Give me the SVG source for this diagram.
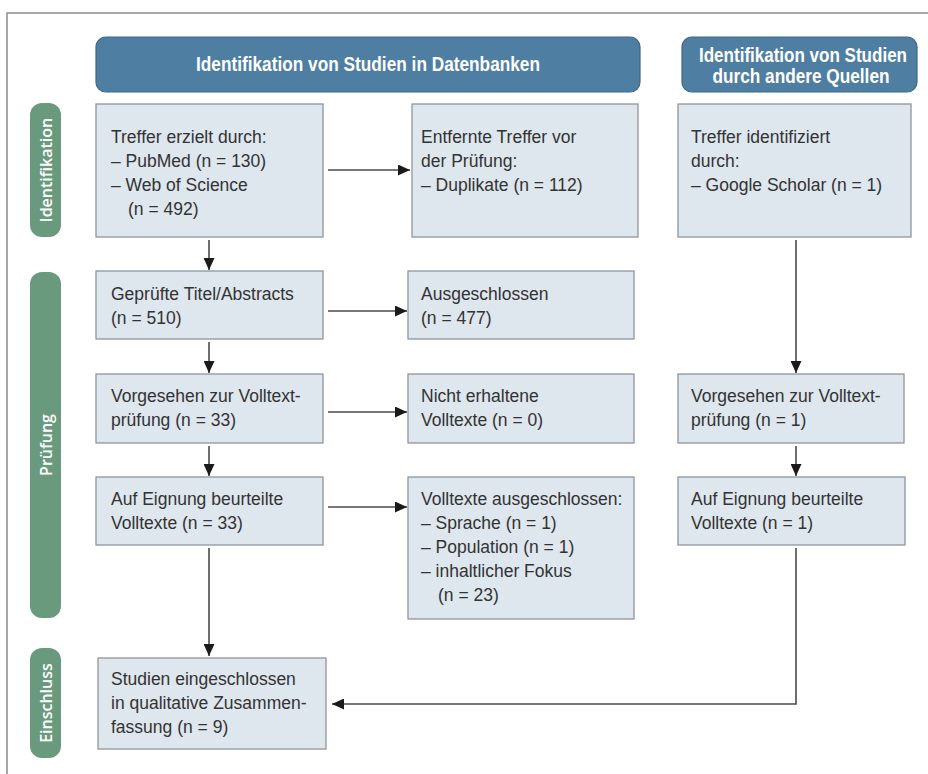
<svg xmlns="http://www.w3.org/2000/svg" width="928" height="774" viewBox="0 0 928 774">
<defs>
<marker id="ah" viewBox="0 0 12 11" refX="12" refY="5.5" markerWidth="12" markerHeight="11" markerUnits="userSpaceOnUse" orient="auto">
<path d="M0,0 L12,5.5 L0,11 z" fill="#1a1a1a"/>
</marker>
<style>
.box{fill:#dee6ee;stroke:#8f969c;stroke-width:1.3}
.hdr{fill:#4e7ea2;stroke:#3d6886;stroke-width:1.2}
.pill{fill:#6a9a7e}
.t{font-family:"Liberation Sans",Arial,sans-serif;font-size:17.5px;fill:#333}
.ht{font-family:"Liberation Sans Narrow","Liberation Sans",Arial,sans-serif;font-size:20.5px;font-weight:bold;fill:#fff}
.pt{font-family:"Open Sans","Liberation Sans",sans-serif;font-size:16px;font-weight:600;fill:#fff}
.c{fill:none;stroke:#4a4a4a;stroke-width:1.6}
</style>
</defs>
<rect width="928" height="774" fill="#fff"/>
<path d="M7,774 V13 H928" fill="none" stroke="#8a8a8a" stroke-width="1.5"/>

<g id="hdr-db">
<rect class="hdr" x="96" y="37" width="544" height="55" rx="10"/>
<text class="ht" x="368" y="71" text-anchor="middle" textLength="344" lengthAdjust="spacingAndGlyphs">Identifikation von Studien in Datenbanken</text>
</g>
<g id="hdr-other">
<rect class="hdr" x="682" y="37" width="235" height="55" rx="10"/>
<text class="ht" x="803" y="62" text-anchor="middle" textLength="208" lengthAdjust="spacingAndGlyphs">Identifikation von Studien</text>
<text class="ht" x="801" y="83" text-anchor="middle" textLength="177" lengthAdjust="spacingAndGlyphs">durch andere Quellen</text>
</g>

<g id="pill-ident">
<rect class="pill" x="30" y="103" width="31" height="134" rx="12"/>
<text class="pt" transform="translate(52,170) rotate(-90)" text-anchor="middle">Identifikation</text>
</g>
<g id="pill-pruef">
<rect class="pill" x="30" y="272" width="31" height="346" rx="12"/>
<text class="pt" transform="translate(52,445) rotate(-90)" text-anchor="middle">Prüfung</text>
</g>
<g id="pill-ein">
<rect class="pill" x="30" y="648" width="31" height="110" rx="12"/>
<text class="pt" transform="translate(52,703) rotate(-90)" text-anchor="middle">Einschluss</text>
</g>

<g id="n-treffer">
<rect class="box" x="96" y="104" width="227" height="133"/>
<text class="t" x="111" y="143">Treffer erzielt durch:</text>
<text class="t" x="111" y="167">– PubMed (n = 130)</text>
<text class="t" x="111" y="191">– Web of Science</text>
<text class="t" x="128" y="215">(n = 492)</text>
</g>
<g id="n-entfernt">
<rect class="box" x="412" y="104" width="226" height="133"/>
<text class="t" x="421" y="143">Entfernte Treffer vor</text>
<text class="t" x="421" y="167">der Prüfung:</text>
<text class="t" x="421" y="191">– Duplikate (n = 112)</text>
</g>
<g id="n-google">
<rect class="box" x="678" y="104" width="233" height="133"/>
<text class="t" x="691" y="143">Treffer identifiziert</text>
<text class="t" x="691" y="167">durch:</text>
<text class="t" x="691" y="191">– Google Scholar (n = 1)</text>
</g>
<g id="n-geprueft">
<rect class="box" x="96" y="271" width="227" height="68"/>
<text class="t" x="111" y="300">Geprüfte Titel/Abstracts</text>
<text class="t" x="111" y="324">(n = 510)</text>
</g>
<g id="n-ausgeschl">
<rect class="box" x="408" y="271" width="226" height="68"/>
<text class="t" x="421" y="300">Ausgeschlossen</text>
<text class="t" x="421" y="324">(n = 477)</text>
</g>
<g id="n-vorg">
<rect class="box" x="96" y="374" width="227" height="69"/>
<text class="t" x="111" y="402">Vorgesehen zur Volltext-</text>
<text class="t" x="111" y="426">prüfung (n = 33)</text>
</g>
<g id="n-nicht">
<rect class="box" x="408" y="374" width="226" height="69"/>
<text class="t" x="421" y="402">Nicht erhaltene</text>
<text class="t" x="421" y="426">Volltexte (n = 0)</text>
</g>
<g id="n-vorg2">
<rect class="box" x="678" y="374" width="226" height="69"/>
<text class="t" x="691" y="402">Vorgesehen zur Volltext-</text>
<text class="t" x="691" y="426">prüfung (n = 1)</text>
</g>
<g id="n-eignung">
<rect class="box" x="96" y="477" width="227" height="68"/>
<text class="t" x="111" y="505">Auf Eignung beurteilte</text>
<text class="t" x="111" y="529">Volltexte (n = 33)</text>
</g>
<g id="n-vt-aus">
<rect class="box" x="408" y="477" width="226" height="142"/>
<text class="t" x="421" y="505">Volltexte ausgeschlossen:</text>
<text class="t" x="421" y="529">– Sprache (n = 1)</text>
<text class="t" x="421" y="553">– Population (n = 1)</text>
<text class="t" x="421" y="577">– inhaltlicher Fokus</text>
<text class="t" x="438" y="601">(n = 23)</text>
</g>
<g id="n-eignung2">
<rect class="box" x="678" y="477" width="227" height="68"/>
<text class="t" x="691" y="505">Auf Eignung beurteilte</text>
<text class="t" x="691" y="529">Volltexte (n = 1)</text>
</g>
<g id="n-studien">
<rect class="box" x="98" y="658" width="228" height="91"/>
<text class="t" x="111" y="685">Studien eingeschlossen</text>
<text class="t" x="111" y="709">in qualitative Zusammen-</text>
<text class="t" x="111" y="733">fassung (n = 9)</text>
</g>

<g id="connectors">
<path class="c" d="M328,170 H410" marker-end="url(#ah)"/>
<path class="c" d="M209,240 V270" marker-end="url(#ah)"/>
<path class="c" d="M328,311 H407" marker-end="url(#ah)"/>
<path class="c" d="M209,342 V373" marker-end="url(#ah)"/>
<path class="c" d="M328,412 H407" marker-end="url(#ah)"/>
<path class="c" d="M209,446 V476" marker-end="url(#ah)"/>
<path class="c" d="M328,507 H407" marker-end="url(#ah)"/>
<path class="c" d="M209,548 V656" marker-end="url(#ah)"/>
<path class="c" d="M796,240 V373" marker-end="url(#ah)"/>
<path class="c" d="M796,446 V476" marker-end="url(#ah)"/>
<path class="c" d="M796,548 V704 H332" marker-end="url(#ah)"/>
</g>
</svg>
